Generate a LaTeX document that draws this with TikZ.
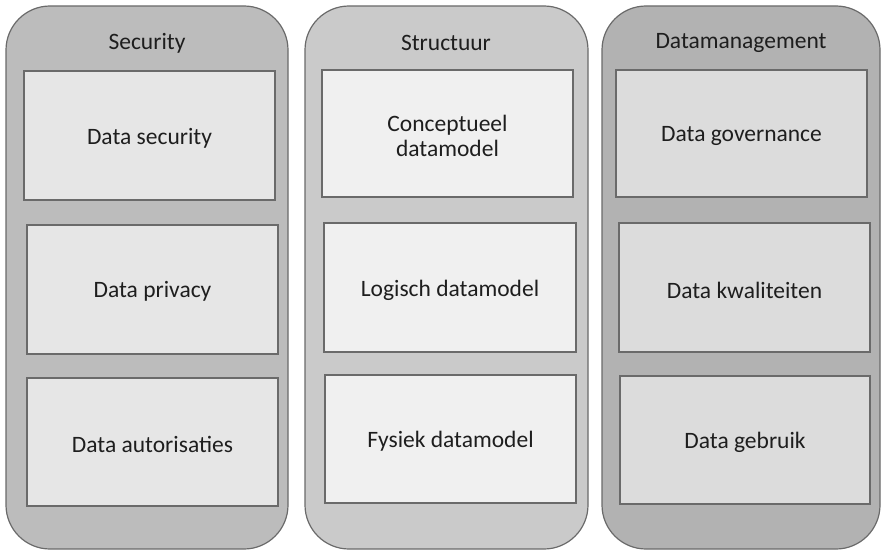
\documentclass[tikz,border=0pt]{standalone}
\usepackage{fontspec}
\setmainfont{Carlito}
\definecolor{edge}{HTML}{6A6A6A}
\definecolor{ink}{HTML}{1E1E1E}
\definecolor{outA}{HTML}{BCBCBC}
\definecolor{inA}{HTML}{E6E6E6}
\definecolor{outB}{HTML}{CACACA}
\definecolor{inB}{HTML}{F0F0F0}
\definecolor{outC}{HTML}{B2B2B2}
\definecolor{inC}{HTML}{DCDCDC}
\tikzset{
  column/.style={draw=edge, line width=1.2pt, rounded corners=44pt},
  item/.style={draw=edge, line width=1.4pt},
  label/.style={text=ink, font=\fontsize{23.5}{25.5}\selectfont, align=center},
}
\begin{document}
\begin{tikzpicture}[x=1pt, y=-1pt]
  \useasboundingbox (0,0) rectangle (882,551);

  % columns
  \path[column, fill=outA] (6,6) rectangle (288,549);
  \path[column, fill=outB] (305,6) rectangle (588,549);
  \path[column, fill=outC] (602,6) rectangle (880,549);

  % column headings
  \node[label] (h1) at (147,43) {Security};
  \node[label] (h2) at (446,43) {Structuur};
  \node[label] (h3) at (741,43) {Datamanagement};

  % Security
  \path[item, fill=inA] (24,71) rectangle (275,200);
  \node[label] (a1) at (149.5,138.5) {Data security};
  \path[item, fill=inA] (27,225) rectangle (278,354);
  \node[label] (a2) at (152.5,291.5) {Data privacy};
  \path[item, fill=inA] (27,378) rectangle (278,506);
  \node[label] (a3) at (152.5,444) {Data autorisaties};

  % Structuur
  \path[item, fill=inB] (322,70) rectangle (573,197);
  \node[label] (b1) at (447.5,136) {Conceptueel\\datamodel};
  \path[item, fill=inB] (324,223) rectangle (576,352);
  \node[label] (b2) at (450,290) {Logisch datamodel};
  \path[item, fill=inB] (325,375) rectangle (576,503);
  \node[label] (b3) at (450.5,441.5) {Fysiek datamodel};

  % Datamanagement
  \path[item, fill=inC] (616,70) rectangle (867,197);
  \node[label] (c1) at (741.5,136) {Data governance};
  \path[item, fill=inC] (619,223) rectangle (870,352);
  \node[label] (c2) at (744.5,290) {Data kwaliteiten};
  \path[item, fill=inC] (620,376) rectangle (870,504);
  \node[label] (c3) at (745,442.5) {Data gebruik};
\end{tikzpicture}
\end{document}
